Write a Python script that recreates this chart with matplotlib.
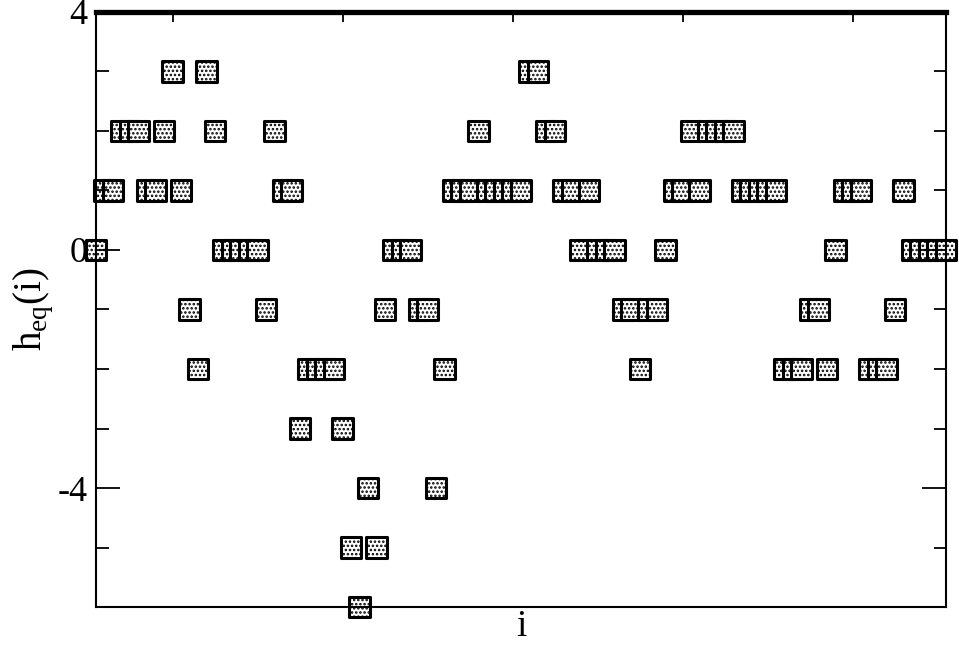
import matplotlib
matplotlib.use('Agg')
from matplotlib import pyplot as plt
from matplotlib.ticker import MultipleLocator, FixedLocator, NullFormatter

plt.rcParams['font.family'] = 'Liberation Serif'
plt.rcParams['mathtext.fontset'] = 'custom'
plt.rcParams['mathtext.rm'] = 'Liberation Serif'
plt.rcParams['axes.unicode_minus'] = False
plt.rcParams['hatch.linewidth'] = 1.2

# site index and equilibrium height h_eq(i)
sites = list(range(1, 102))
heights = [0, 1, 1, 2, 2, 2, 1, 1, 2, 3,
           1, -1, -2, 3, 2, 0, 0, 0, 0, 0,
           -1, 2, 1, 1, -3, -2, -2, -2, -2, -3,
           -5, -6, -4, -5, -1, 0, 0, 0, -1, -1,
           -4, -2, 1, 1, 1, 2, 1, 1, 1, 1,
           1, 3, 3, 2, 2, 1, 1, 0, 1, 0,
           0, 0, -1, -1, -2, -1, -1, 0, 1, 1,
           2, 1, 2, 2, 2, 2, 1, 1, 1, 1,
           1, -2, -2, -2, -1, -1, -2, 0, 1, 1,
           1, -2, -2, -2, -1, 1, 0, 0, 0, 0,
           0]

Y_TICKS = [-4, 0, 4]
X_TOP_TICKS = [10, 30, 50, 70, 90]

fig = plt.figure(figsize=(9.59, 6.47), dpi=100)
ax = fig.add_axes([0.1001, 0.0618, 0.8864, 0.9197])

ax.scatter(sites, heights, marker='s', s=210, facecolor='white',
           edgecolor='black', linewidths=2.2, hatch='....',
           clip_on=False, zorder=1)

ax.set_xlim(1, 101)
ax.set_ylim(-6, 4)

ax.yaxis.set_major_locator(FixedLocator(Y_TICKS))
ax.yaxis.set_minor_locator(MultipleLocator(1))
ax.xaxis.set_major_locator(FixedLocator(X_TOP_TICKS))
ax.xaxis.set_major_formatter(NullFormatter())

ax.tick_params(axis='y', which='both', direction='in', left=True, right=True,
               labelsize=26, width=1.3, pad=6)
ax.tick_params(axis='y', which='major', length=17)
ax.tick_params(axis='y', which='minor', length=9)
ax.tick_params(axis='x', which='both', direction='in', top=True, bottom=False,
               labelbottom=False, length=7, width=1.3)

for side in ['left', 'right', 'bottom']:
    ax.spines[side].set_linewidth(1.5)
ax.spines['top'].set_linewidth(3.8)

ax.set_xlabel('i', fontsize=27, labelpad=2)
ax.set_ylabel(r'h$_{\rm eq}$(i)', fontsize=28, labelpad=2)

fig.savefig('out.png', dpi=100)
